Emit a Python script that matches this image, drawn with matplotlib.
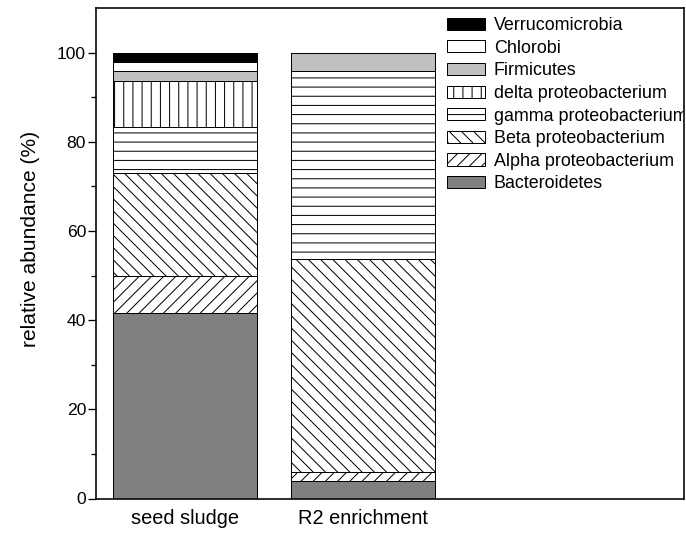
import numpy as np
import matplotlib as mpl
import matplotlib.pyplot as plt

# render at high dpi so the hatch spacing matches, sizes below given in pixels
DPI = 220
PT = 72. / DPI   # points per pixel

samples = ['seed sludge', 'R2 enrichment']
taxa = ['Bacteroidetes', 'Alpha proteobacterium', 'Beta proteobacterium',
        'gamma proteobacterium', 'delta proteobacterium', 'Firmicutes',
        'Chlorobi', 'Verrucomicrobia']
seed_sludge = [41.5, 8.3, 23.1, 10.5, 10.3, 2.1, 2.0, 2.2]
r2_enrichment = [3.9, 2.15, 47.75, 42.0, 0.0, 4.2, 0.0, 0.0]

fills = ['#808080', 'white', 'white', 'white', 'white', '#c0c0c0', 'white', 'black']
hatches = [None, '//////', '\\' * 6, '----', '||||', None, None, None]

mpl.rcParams['font.family'] = ['Liberation Sans', 'DejaVu Sans']
mpl.rcParams['hatch.linewidth'] = 1.0 * PT

fig = plt.figure(figsize=(686 / DPI, 538 / DPI), dpi=DPI, facecolor='w')
ax = fig.add_axes([96 / 686, 1 - 498.5 / 538, 588 / 686, 490.5 / 538])

x = np.arange(1, len(samples) + 1)
data = np.array([seed_sludge, r2_enrichment]).T
bottom = np.zeros(len(samples))
handles = []
for i, name in enumerate(taxa):
    h = data[i]
    b = ax.bar(x, h, 0.81, bottom=bottom, color=fills[i], edgecolor='black',
               linewidth=1.0 * PT, hatch=hatches[i], label=name)
    handles.append(b)
    bottom += h

ax.set_xlim(0.5, 3.8)
ax.set_ylim(0, 110)
ax.set_xticks(x)
ax.set_xticklabels(samples, fontsize=20 * PT)
ax.set_yticks(np.arange(0, 101, 20))
ax.set_yticks(np.arange(10, 101, 20), minor=True)
ax.tick_params(axis='y', which='major', length=8 * PT, width=1.3 * PT,
               labelsize=17.5 * PT, pad=2 * PT)
ax.tick_params(axis='y', which='minor', length=5 * PT, width=1.3 * PT)
ax.tick_params(axis='x', length=0, pad=10 * PT)
ax.set_ylabel('relative abundance (%)', fontsize=21 * PT, va='center')
ax.yaxis.set_label_coords(-0.112, 0.530)
for sp in ax.spines.values():
    sp.set_linewidth(1.6 * PT)

leg = ax.legend(handles[::-1], taxa[::-1], loc='upper left',
                bbox_to_anchor=(447 / 686, 1 - 17 / 538),
                bbox_transform=fig.transFigure, frameon=False, fontsize=17.9 * PT,
                borderpad=0, borderaxespad=0, handlelength=2.12,
                handleheight=0.67, handletextpad=0.5, labelspacing=0.315)
# long entry runs into the frame and gets cut there
for t in leg.get_texts():
    t.set_clip_box(ax.bbox)
    t.set_clip_on(True)

fig.savefig('out.png', dpi=DPI, facecolor='w')
